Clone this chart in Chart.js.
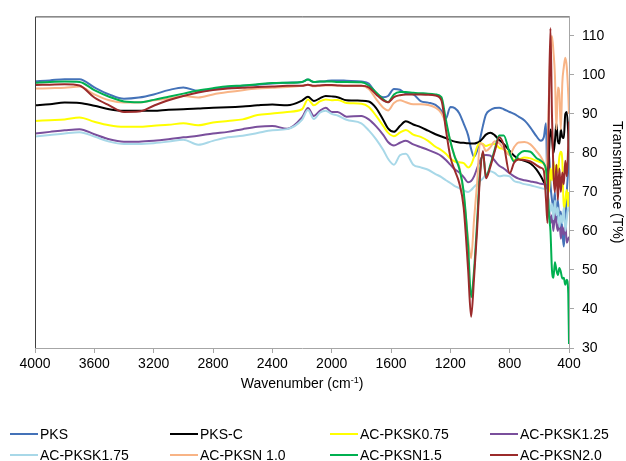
<!DOCTYPE html>
<html>
<head>
<meta charset="utf-8">
<title>FTIR spectra</title>
<script src="https://cdn.jsdelivr.net/npm/chart.js@4.4.0/dist/chart.umd.min.js"></script>
<style>
  body { margin: 0; background: #fff; }
  #wrap { position: relative; width: 626px; height: 461px; font-family: "Liberation Sans", Arial, sans-serif; }
  #legend .item { position: absolute; font-size: 14px; line-height: 16px; color: #000; white-space: nowrap; }
  #legend .swatch { display: inline-block; width: 28px; height: 2px; vertical-align: middle; margin-right: 2px; position: relative; top: -1px; }
</style>
</head>
<body>
<div id="wrap">
  <canvas id="ftirChart"></canvas>
  <div id="legend"></div>
</div>
<script>
// wavenumber grid (cm-1), shared by every spectrum
var wavenumber = [4000, 3900, 3800, 3700, 3600, 3500, 3400, 3300, 3200, 3100, 3000, 2900, 2800, 2700, 2600, 2500, 2400, 2300, 2200,
  2160, 2120, 2080, 2040, 2000, 1960, 1900,
  1800, 1750, 1700, 1650, 1620, 1580, 1540, 1500, 1450, 1400, 1350, 1300,
  1260, 1230, 1200, 1170, 1140, 1110, 1080, 1060, 1040, 1020, 1000,
  980, 960, 930, 900, 870, 840, 800, 770, 740, 700, 660, 620, 590, 570,
  555, 545, 535, 525, 515, 505, 495, 485, 475, 465, 455, 445, 435, 425, 415, 405, 400];

// transmittance (%) for each sample
var pks = [98.4, 98.6, 98.9, 98.9, 96.8, 95, 93.9, 94.2, 95, 96.1, 96.8, 95.9, 96.3, 96.8, 97.2, 97.5, 97.8, 98, 98.2,
  98.8, 98.2, 98.3, 98.4, 98.6, 98.6, 98.5,
  98.3, 97.8, 95.3, 94.3, 94.6, 96.4, 96.2, 95.3, 95, 93.3, 92.9, 92.3,
  90.8, 88.8, 91.8, 91.5, 90.2, 87.5, 84.5, 81, 79, 80.5, 83.5,
  87, 89.8, 91, 91.5, 91.6, 91.2, 90.5, 90, 89.3, 88.3, 86.5, 84.3, 83.1, 84,
  87.6, 70, 80, 72, 68, 66, 70, 62, 68, 63, 65, 60, 56, 62, 70, 76, 80];
var pksC = [92.2, 92.5, 92.9, 92.8, 92.1, 91.2, 90.8, 90.8, 90.8, 91.1, 91.2, 91.4, 91.6, 91.7, 91.9, 92.2, 92.4, 92.2, 93.4,
  94.4, 93.3, 94, 94.6, 94.5, 94.3, 93.5,
  93.4, 93.2, 91.5, 88.3, 86.3, 85.4, 86.9, 88.1, 87.3, 86.6, 85.7, 84.8,
  84.2, 83.8, 83.3, 82.9, 82.7, 82.6, 82.5, 82.4, 82.4, 82.6, 83,
  83.8, 84.7, 85.2, 84.5, 83.3, 82.3, 80.5, 79.3, 78.5, 78, 77.3, 75.8, 74, 72.5,
  71, 70, 80, 86, 84, 80, 83, 87.6, 83, 82.4, 86, 84, 83.8, 90, 90.5, 85, 80];
var pksK075 = [88.2, 88.4, 88.6, 89.1, 88, 87.1, 86.7, 86.7, 87, 87.2, 87.6, 87.1, 87.8, 88.2, 88.6, 89.7, 90.1, 90.5, 91.2,
  93.7, 92.2, 93.2, 93.7, 93.5, 93.6, 92.8,
  92.6, 91.8, 89.5, 86.8, 85.2, 84.3, 85.2, 85.9, 84.7, 84.1, 83.1, 81.6,
  80.7, 79.8, 78.6, 77.8, 77.6, 77.4, 76.3, 77, 79, 81.5, 82.5,
  82.3, 81.8, 82.2, 82.3, 81.3, 81, 79.5, 78.2, 78.3, 78.8, 78.6, 78, 77.6, 77.2,
  75.5, 72, 70, 76, 73, 78, 74, 77, 75, 79, 80.3, 78, 65.4, 68, 70.5, 66, 70];
var pksK125 = [85, 85.4, 85.8, 86.1, 84.8, 83.5, 82.9, 82.9, 83.1, 83.5, 84, 84.4, 85, 85.4, 86.1, 86.7, 86.9, 86.2, 89.1,
  91.5, 89.5, 90.8, 91.6, 90.5, 90.5, 89.3,
  89.5, 88.6, 86.8, 84.5, 82.8, 81.9, 82.6, 83.1, 82.2, 81.5, 80.8, 80,
  79.2, 78.2, 77, 75.8, 75, 73.8, 72.5, 72.8, 74, 76, 78,
  79.3, 79.5, 79.3, 78, 76.7, 76, 74.8, 74, 73.4, 73, 72.7, 72.4, 72.1, 72,
  72, 70, 66, 62, 64, 60, 64.6, 62, 60, 63, 58, 61, 59, 62, 57, 58, 58.5];
var pksK175 = [84.2, 84.6, 85, 85.3, 84.2, 82.9, 82.3, 82.3, 82.5, 82.9, 83.4, 82.1, 83.1, 84, 84.4, 85.1, 85.8, 86.1, 88.5,
  91, 88.7, 90.3, 90.8, 90, 89.6, 88.5,
  87.6, 85.8, 83.5, 80.6, 78.5, 77, 79.4, 79.8, 77, 76.3, 75.7, 74.6,
  73.8, 73, 72.3, 71.5, 71, 70.4, 70, 70.5, 71.3, 72, 72.8,
  73.5, 74.5, 75.3, 74.8, 74, 74.2, 74, 72.8, 72.5, 72, 71.7, 71.3, 71, 70.8,
  70.5, 66, 68, 65, 67, 63, 67.8, 64, 66, 61, 64, 62, 66, 60, 63, 66, 65];
var pksN10 = [96.5, 96.6, 96.7, 97, 95, 93.5, 92.9, 92.9, 93.5, 93.9, 94.6, 94.2, 95, 95.6, 96.1, 96.5, 96.7, 96.9, 97.2,
  97.5, 97.1, 97.2, 97.3, 97.3, 97.3, 97.2,
  97.2, 96.4, 93.8, 91.5, 90.9, 92.8, 93.5, 93, 92.5, 92.5, 92.3, 91.6,
  90.2, 87.5, 83, 79, 76.5, 69, 58, 53, 63, 72, 82.5,
  82, 80.5, 81.5, 83, 82.5, 81, 79.5, 81.5, 82.7, 82.8, 82.2, 80.5, 79, 77.5,
  76, 80, 95, 106, 110, 106, 100, 86, 96.8, 95, 86, 98, 102, 104.4, 102, 95, 90];
var pksN15 = [98, 98.2, 98.3, 98.2, 96.1, 94.4, 93.2, 93, 93.6, 94.4, 95.2, 96, 96.6, 97.1, 97.3, 97.6, 97.9, 98, 98.2,
  98.8, 98.2, 98.3, 98.3, 98.3, 98.2, 98.2,
  98.1, 97.3, 95.5, 93.7, 93, 95, 95.6, 95.6, 95.4, 95.3, 95.2, 95,
  94.3, 88.5, 83, 79, 76, 70, 56, 43, 50, 62, 75,
  80, 74, 77, 81, 84.5, 84.5, 80, 77.8, 79.6, 80.5, 80.3, 78.7, 78, 77.3,
  75.8, 72, 64, 60, 50, 48, 52, 50, 48.7, 50.5, 49.5, 47.8, 48, 46.2, 47.5, 44, 31];
var pksN20 = [97.4, 97.5, 97.6, 97.3, 94.2, 92.2, 90.5, 90.6, 92.1, 93.5, 94.6, 95.5, 96.1, 96.5, 96.7, 96.9, 97, 97.2, 97.2,
  97.5, 97.2, 97.3, 97.4, 97.4, 97.3, 97.2,
  97.2, 96.8, 95, 93.4, 93, 94.3, 94.8, 95, 95, 95, 94.9, 94.7,
  93.5, 86, 79, 75.5, 72.3, 66, 50, 38, 48, 60, 74,
  80.5, 73.5, 76.5, 80.5, 84, 82, 74.8, 77.5, 78.3, 78.2, 77.8, 76.9, 76.2, 75.5,
  68, 62, 93, 112, 90, 75, 70, 77, 68, 76, 70, 75, 72, 78, 74, 82, 88];

var sampleNames = ['PKS', 'PKS-C', 'AC-PKSK0.75', 'AC-PKSK1.25', 'AC-PKSK1.75', 'AC-PKSN 1.0', 'AC-PKSN1.5', 'AC-PKSN2.0'];
var sampleValues = [pks, pksC, pksK075, pksK125, pksK175, pksN10, pksN15, pksN20];
var sampleColors = ['#4472b8', '#000000', '#ffff00', '#7a4f9c', '#a8d8e8', '#f8b486', '#00b050', '#9b2b2b'];

var fontFamily = '"Liberation Sans", Arial, sans-serif';
var axisGrey = '#a6a6a6';

var datasets = sampleNames.map(function(name, i) {
  return {
    label: name,
    data: wavenumber.map(function(w, j) { return { x: w, y: sampleValues[i][j] }; }),
    borderColor: sampleColors[i],
    backgroundColor: sampleColors[i],
    borderWidth: 2,
    pointRadius: 0,
    fill: false,
    cubicInterpolationMode: 'monotone',
    // later samples sit on top, like the original plot
    order: sampleNames.length - i
  };
});

// frame on the top/left edges and both axis titles
var decorations = {
  id: 'decorations',
  afterDraw: function(chart) {
    var a = chart.chartArea;
    var c = chart.ctx;
    c.save();
    c.strokeStyle = '#404040';
    c.lineWidth = 1;
    c.beginPath();
    c.moveTo(a.left + 0.5, a.bottom);
    c.lineTo(a.left + 0.5, a.top + 0.5);
    c.lineTo(a.right, a.top + 0.5);
    c.stroke();

    c.fillStyle = '#000';
    c.textBaseline = 'alphabetic';
    var main = 'Wavenumber (cm';
    var sup = '-1';
    var close = ')';
    c.font = '14px ' + fontFamily;
    var wMain = c.measureText(main).width;
    var wClose = c.measureText(close).width;
    c.font = '9px ' + fontFamily;
    var wSup = c.measureText(sup).width;
    var x0 = (a.left + a.right) / 2 - (wMain + wSup + wClose) / 2;
    var base = 388;
    c.font = '14px ' + fontFamily;
    c.fillText(main, x0, base);
    c.font = '9px ' + fontFamily;
    c.fillText(sup, x0 + wMain, base - 5);
    c.font = '14px ' + fontFamily;
    c.fillText(close, x0 + wMain + wSup, base);

    c.translate(617, (a.top + a.bottom) / 2);
    c.rotate(Math.PI / 2);
    c.textAlign = 'center';
    c.textBaseline = 'middle';
    c.fillText('Transmittance (T%)', 0, 0);
    c.restore();
  }
};

var ctx = document.getElementById('ftirChart').getContext('2d');
var ftirChart = new Chart(ctx, {
  type: 'line',
  data: { datasets: datasets },
  options: {
    responsive: true,
    maintainAspectRatio: false,
    animation: false,
    layout: { padding: { left: 35, top: 14, right: 0, bottom: 73 } },
    plugins: {
      legend: { display: false },
      tooltip: { enabled: false }
    },
    scales: {
      x: {
        type: 'linear',
        reverse: true,
        min: 400,
        max: 4000,
        afterFit: function(scale) { scale.height = 40; },
        border: { color: axisGrey, width: 1 },
        grid: { drawOnChartArea: false, drawTicks: true, tickLength: 5, color: axisGrey },
        ticks: {
          stepSize: 400,
          padding: 3,
          color: '#000',
          maxRotation: 0,
          autoSkip: false,
          font: { size: 14, family: fontFamily },
          callback: function(v) { return String(v); }
        }
      },
      y: {
        position: 'right',
        min: 30,
        max: 115,
        afterFit: function(scale) { scale.width = 57; },
        border: { color: axisGrey, width: 1 },
        grid: { drawOnChartArea: false, drawTicks: true, tickLength: 5, color: axisGrey },
        ticks: {
          stepSize: 10,
          includeBounds: false,
          padding: 8,
          color: '#000',
          font: { size: 14, family: fontFamily }
        }
      }
    }
  },
  plugins: [decorations]
});

// legend in four columns under the plot
var legend = document.getElementById('legend');
ftirChart.data.datasets.forEach(function(ds, i) {
  var item = document.createElement('div');
  item.className = 'item';
  item.style.left = (10 + (i % 4) * 160) + 'px';
  item.style.top = (426 + Math.floor(i / 4) * 21) + 'px';
  var sw = document.createElement('span');
  sw.className = 'swatch';
  sw.style.background = ds.borderColor;
  item.appendChild(sw);
  item.appendChild(document.createTextNode(ds.label));
  legend.appendChild(item);
});
</script>
</body>
</html>
